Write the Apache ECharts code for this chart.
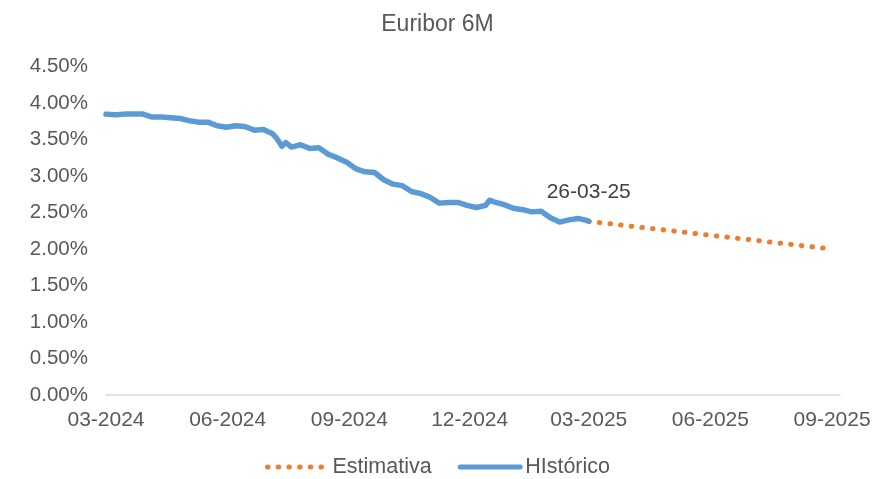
<!DOCTYPE html>
<html>
<head>
<meta charset="utf-8">
<script src="https://cdn.jsdelivr.net/npm/echarts@6/dist/echarts.min.js"></script>
<style>
  html, body { margin: 0; padding: 0; background: #fff; }
  #chart { width: 875px; height: 479px; }
</style>
</head>
<body>
<div id="chart"></div>
<script>
// Euribor 6M - histórico (semanal) e estimativa
var histDates = [
  '2024-03-26','2024-04-02','2024-04-09','2024-04-16','2024-04-23','2024-04-30',
  '2024-05-07','2024-05-14','2024-05-21','2024-05-28','2024-06-04','2024-06-11',
  '2024-06-18','2024-06-25','2024-07-02','2024-07-09','2024-07-16','2024-07-23',
  '2024-07-30','2024-08-02','2024-08-06','2024-08-09','2024-08-13','2024-08-16',
  '2024-08-20','2024-08-27','2024-09-03','2024-09-10','2024-09-17','2024-09-24',
  '2024-10-01','2024-10-08','2024-10-15','2024-10-22','2024-10-29','2024-11-05',
  '2024-11-12','2024-11-19','2024-11-26','2024-12-03','2024-12-10','2024-12-17',
  '2024-12-24','2024-12-31','2025-01-07','2025-01-10','2025-01-14','2025-01-21',
  '2025-01-28','2025-02-04','2025-02-11','2025-02-18','2025-02-25','2025-03-04',
  '2025-03-11','2025-03-18','2025-03-25','2025-03-26'
];
var histValues = [
  3.85, 3.84, 3.85, 3.85, 3.85, 3.81,
  3.81, 3.80, 3.79, 3.76, 3.74, 3.74,
  3.69, 3.67, 3.69, 3.68, 3.63, 3.64,
  3.58, 3.52, 3.41, 3.46, 3.40, 3.41,
  3.43, 3.38, 3.39, 3.30, 3.25, 3.19,
  3.10, 3.06, 3.05, 2.95, 2.89, 2.87,
  2.79, 2.76, 2.71, 2.63, 2.64, 2.64,
  2.60, 2.57, 2.60, 2.67, 2.645, 2.61,
  2.56, 2.54, 2.51, 2.52, 2.43, 2.37,
  2.40, 2.42, 2.39, 2.38
];
var estDates = ['2025-03-26', '2025-09-26'];
var estValues = [2.38, 2.00];

var tickDates = ['2024-03-26','2024-06-26','2024-09-26','2024-12-26','2025-03-26','2025-06-26','2025-09-26'];
var tickLabels = ['03-2024','06-2024','09-2024','12-2024','03-2025','06-2025','09-2025'];

function ts(s) {
  var p = s.split('-');
  return new Date(+p[0], +p[1] - 1, +p[2]).getTime();
}
function pair(dates, values) {
  return dates.map(function (d, i) { return [ts(d), values[i]]; });
}
var tickTs = tickDates.map(ts);

var estData = pair(estDates, estValues);
// rótulo com a data do último valor histórico
estData[0] = {
  value: estData[0],
  symbol: 'circle',
  symbolSize: 1,
  label: {
    show: true,
    position: 'top',
    distance: 18,
    color: '#404040',
    fontSize: 21,
    fontFamily: 'Liberation Sans',
    formatter: function (p) {
      var d = new Date(p.value[0]);
      var pad = function (n) { return (n < 10 ? '0' : '') + n; };
      return pad(d.getDate()) + '-' + pad(d.getMonth() + 1) + '-' + String(d.getFullYear()).slice(2);
    }
  }
};

var chart = echarts.init(document.getElementById('chart'));
chart.setOption({
  animation: false,
  backgroundColor: '#fff',
  textStyle: { fontFamily: 'Liberation Sans' },
  title: {
    text: 'Euribor 6M',
    left: 'center',
    top: 8,
    textStyle: { color: '#595959', fontSize: 23, fontWeight: 'normal', fontFamily: 'Liberation Sans' }
  },
  legend: {
    bottom: -4,
    left: 'center',
    data: ['Estimativa', 'HIstórico'],
    itemWidth: 60,
    itemHeight: 14,
    itemGap: 26,
    itemStyle: { opacity: 0 },
    lineStyle: { width: 5, cap: 'round' },
    textStyle: { color: '#595959', fontSize: 21.5, fontFamily: 'Liberation Sans' }
  },
  grid: {
    left: 106,
    right: 35,
    top: 66.7,
    bottom: 84,
    outerBoundsMode: 'none'
  },
  // eixo de datas em timestamps (valor), marcas a cada 3 meses
  xAxis: {
    type: 'value',
    min: ts('2024-03-26'),
    max: ts('2025-10-02'),
    axisLine: { show: true, onZero: false, lineStyle: { color: '#D9D9D9', width: 1.5 } },
    axisTick: { show: false },
    splitLine: { show: false },
    axisLabel: {
      customValues: tickTs,
      color: '#595959',
      fontSize: 21,
      margin: 15,
      hideOverlap: false,
      formatter: function (v) {
        var i = tickTs.indexOf(v);
        return i >= 0 ? tickLabels[i] : '';
      }
    }
  },
  yAxis: {
    type: 'value',
    min: 0,
    max: 4.5,
    interval: 0.5,
    axisLine: { show: false },
    axisTick: { show: false },
    splitLine: { show: false },
    axisLabel: {
      color: '#595959',
      fontSize: 20.5,
      margin: 18,
      formatter: function (v) { return v.toFixed(2) + '%'; }
    }
  },
  series: [
    {
      name: 'Estimativa',
      type: 'line',
      symbol: 'none',
      data: estData,
      lineStyle: { color: '#ED7D31', width: 5, type: [0.5, 10.2], cap: 'round' },
      itemStyle: { color: '#ED7D31' }
    },
    {
      name: 'HIstórico',
      type: 'line',
      symbol: 'none',
      data: pair(histDates, histValues),
      lineStyle: { color: '#5B9BD5', width: 5.5, cap: 'round', join: 'round' },
      itemStyle: { color: '#5B9BD5' }
    }
  ]
});
</script>
</body>
</html>
